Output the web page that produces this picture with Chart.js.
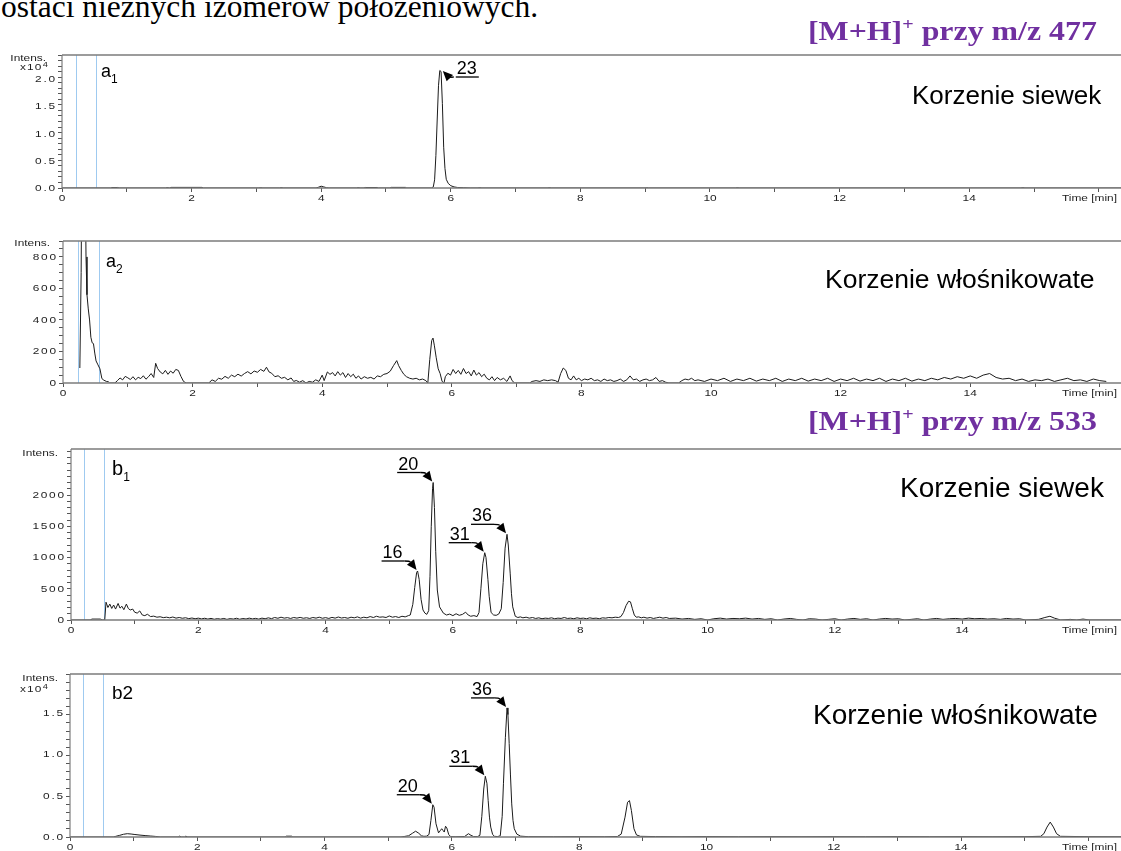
<!DOCTYPE html>
<html lang="pl">
<head>
<meta charset="utf-8">
<title>Chromatogramy EIC</title>
<script src="https://cdn.jsdelivr.net/npm/chart.js@4.4.1/dist/chart.umd.min.js"></script>
<style>
  html, body { margin: 0; padding: 0; background: #fff; width: 1121px; height: 851px; overflow: hidden; }
  canvas { position: absolute; left: 0; }
  .t { position: absolute; white-space: nowrap; line-height: 1; transform-origin: 0 0; z-index: 2; }
  .intro { font-family: "Liberation Serif", "Times New Roman", serif; font-size: 31.5px; color: #000; }
  .hdr { font-family: "Liberation Serif", "Times New Roman", serif; font-weight: bold; font-size: 27px; color: #7030a0; transform: scaleX(1.18); }
  .hdr sup { font-size: 17px; vertical-align: 10px; line-height: 0; }
  .org { font-family: "Liberation Sans", Arial, sans-serif; color: #000; }
  .pl { font-family: "Liberation Sans", Arial, sans-serif; color: #000; }
  .pl sub { font-size: 12px; vertical-align: -6px; line-height: 0; }
</style>
</head>
<body>
<div class="t intro" style="left:1px; top:-9.4px;">ostaci nieznych izomerów położeniowych.</div>

<div class="t hdr" style="left:808px; top:18.4px;">[M+H]<sup>+</sup> przy m/z 477</div>
<div class="t hdr" style="left:808px; top:408.4px;">[M+H]<sup>+</sup> przy m/z 533</div>

<div class="t org" style="left:912px; top:82px; font-size:26px;">Korzenie siewek</div>
<div class="t org" style="left:825px; top:265.6px; font-size:26.5px;">Korzenie włośnikowate</div>
<div class="t org" style="left:900px; top:474.3px; font-size:28px;">Korzenie siewek</div>
<div class="t org" style="left:813px; top:701px; font-size:28px;">Korzenie włośnikowate</div>

<div class="t pl" style="left:101px; top:61.5px; font-size:18px;">a<sub>1</sub></div>
<div class="t pl" style="left:106px; top:251.8px; font-size:18px;">a<sub>2</sub></div>
<div class="t pl" style="left:112px; top:458px; font-size:20px;">b<sub>1</sub></div>
<div class="t pl" style="left:112px; top:683px; font-size:19px;">b2</div>

<script>
// ---------------- retention time [min] / intensity pairs for each trace ----------------
// a1: m/z 477, seedling roots
const traceA1 = [
  [0,0],[0.75,0],[0.77,90],[0.86,90],[0.88,0],[1.60,0],[1.62,70],[1.66,0],[1.68,110],[2.16,110],
  [2.18,0],[3.04,0],[3.06,60],[3.10,0],[3.36,0],[3.38,60],[3.42,0],[3.92,0],[3.96,150],[4.00,330],
  [4.04,200],[4.08,60],[4.12,0],[4.55,0],[4.57,70],[4.60,0],[4.66,0],[4.68,90],[4.86,90],[4.88,0],
  [5.06,0],[5.08,110],[5.30,110],[5.32,0],[5.70,0],[5.73,200],[5.75,1500],[5.77,6000],[5.79,12500],[5.81,18800],
  [5.83,21600],[5.85,21400],[5.87,15500],[5.89,7500],[5.91,3600],[5.93,1600],[5.96,850],[6.00,420],[6.05,200],[6.10,100],
  [6.20,50],[6.30,0],[6.42,0],[6.44,60],[6.48,0],[7.50,0],[7.52,60],[7.55,0],[9.00,0],[9.02,60],
  [9.05,0],[10.40,0],[10.42,60],[10.45,0],[14.80,0],[14.82,80],[14.86,0],[16.40,0]
];

// a2: m/z 477, hairy roots
const traceA2 = [
  [0.26,95],[0.28,700],[0.30,2000],[0.32,2400],[0.34,1500],[0.355,800],[0.37,560],[0.39,470],[0.41,400],[0.43,290],
  [0.45,255],[0.47,250],[0.49,190],[0.51,140],[0.54,115],[0.57,90],[0.60,28],[0.63,18],[0.67,10],[0.70,8],
  [0.72,0],[0.80,0],[0.84,15],[0.88,32],[0.92,20],[0.96,42],[1.00,33],[1.04,22],[1.08,40],[1.12,20],
  [1.16,36],[1.20,28],[1.24,46],[1.28,24],[1.32,40],[1.36,60],[1.40,35],[1.43,125],[1.46,92],[1.50,70],
  [1.54,58],[1.58,80],[1.62,55],[1.66,76],[1.70,62],[1.74,86],[1.78,80],[1.82,42],[1.86,10],[1.90,0],
  [2.25,0],[2.30,20],[2.35,10],[2.40,30],[2.45,24],[2.50,42],[2.55,30],[2.60,50],[2.65,40],[2.70,56],
  [2.75,44],[2.80,60],[2.85,72],[2.90,58],[2.95,76],[3.00,68],[3.05,86],[3.10,74],[3.14,100],[3.18,70],
  [3.22,62],[3.27,40],[3.32,46],[3.37,30],[3.42,36],[3.47,20],[3.52,32],[3.56,10],[3.60,16],[3.65,5],
  [3.70,15],[3.75,0],[3.80,10],[3.85,5],[3.90,20],[3.95,10],[4.00,50],[4.03,15],[4.08,70],[4.12,55],
  [4.16,66],[4.20,45],[4.24,72],[4.28,50],[4.32,66],[4.36,35],[4.40,60],[4.44,40],[4.48,56],[4.52,30],
  [4.56,45],[4.60,25],[4.65,40],[4.70,30],[4.75,36],[4.80,25],[4.85,45],[4.90,40],[4.95,55],[5.00,60],
  [5.05,75],[5.10,110],[5.15,142],[5.18,110],[5.22,80],[5.26,55],[5.30,40],[5.35,30],[5.40,25],[5.45,30],
  [5.50,20],[5.55,25],[5.60,15],[5.63,0],[5.66,150],[5.69,270],[5.71,285],[5.73,240],[5.76,160],[5.79,90],
  [5.82,60],[5.85,10],[5.88,0],[5.90,40],[5.94,62],[5.98,50],[6.02,86],[6.06,60],[6.10,80],[6.14,55],
  [6.18,92],[6.22,60],[6.26,72],[6.30,45],[6.34,82],[6.38,50],[6.42,66],[6.46,40],[6.50,56],[6.54,30],
  [6.58,20],[6.62,40],[6.66,15],[6.70,35],[6.75,20],[6.80,30],[6.85,10],[6.90,45],[6.93,15],[6.97,0],
  [7.20,0],[7.24,10],[7.30,15],[7.36,10],[7.42,20],[7.48,15],[7.54,20],[7.60,15],[7.64,5],[7.68,60],
  [7.72,95],[7.76,80],[7.80,30],[7.84,20],[7.88,45],[7.92,20],[7.96,30],[8.00,15],[8.05,25],[8.10,20],
  [8.15,30],[8.20,15],[8.25,20],[8.30,10],[8.35,25],[8.40,15],[8.45,20],[8.50,10],[8.55,15],[8.60,25],
  [8.65,10],[8.70,20],[8.75,45],[8.80,20],[8.85,25],[8.90,10],[8.95,20],[9.00,25],[9.05,15],[9.10,20],
  [9.15,35],[9.20,10],[9.25,15],[9.30,5],[9.35,0],[9.50,0],[9.55,15],[9.60,25],[9.65,20],[9.70,30],
  [9.75,15],[9.80,20],[9.90,10],[10.00,25],[10.10,15],[10.20,30],[10.30,10],[10.40,25],[10.50,15],[10.60,30],
  [10.70,12],[10.80,25],[10.90,15],[11.00,30],[11.10,10],[11.20,25],[11.30,15],[11.40,30],[11.50,12],[11.60,25],
  [11.70,15],[11.80,30],[11.90,10],[12.00,25],[12.10,15],[12.20,30],[12.30,12],[12.40,25],[12.50,15],[12.60,30],
  [12.70,10],[12.80,25],[12.90,15],[13.00,30],[13.10,12],[13.20,25],[13.30,15],[13.40,30],[13.50,20],[13.60,35],
  [13.70,25],[13.80,40],[13.90,30],[14.00,45],[14.10,30],[14.20,50],[14.30,60],[14.40,35],[14.50,25],[14.60,30],
  [14.70,15],[14.80,25],[14.90,10],[15.00,20],[15.10,15],[15.20,25],[15.30,10],[15.40,20],[15.50,30],[15.60,15],
  [15.70,20],[15.80,10],[15.90,25],[16.00,15],[16.10,10]
];

// b1: m/z 533, seedling roots
const traceB1 = [
  [0,0],[0.30,0],[0.33,15],[0.46,15],[0.49,0],[0.53,0],[0.55,285],[0.58,200],[0.61,255],[0.64,185],
  [0.67,240],[0.70,175],[0.74,265],[0.77,190],[0.80,220],[0.83,165],[0.87,255],[0.90,185],[0.93,160],[0.97,175],
  [1.00,125],[1.04,110],[1.08,145],[1.12,80],[1.16,70],[1.20,92],[1.25,55],[1.30,62],[1.35,45],[1.40,52],
  [1.45,38],[1.50,45],[1.55,35],[1.60,48],[1.65,30],[1.70,40],[1.75,28],[1.80,36],[1.85,22],[1.90,32],
  [1.95,20],[2.00,30],[2.05,18],[2.10,28],[2.15,15],[2.20,26],[2.25,12],[2.30,22],[2.35,14],[2.40,25],
  [2.45,10],[2.50,22],[2.55,15],[2.60,28],[2.65,12],[2.70,24],[2.75,16],[2.80,30],[2.85,18],[2.90,26],
  [2.95,14],[3.00,30],[3.05,20],[3.10,35],[3.15,22],[3.20,40],[3.25,28],[3.30,45],[3.35,30],[3.40,38],
  [3.45,25],[3.50,40],[3.55,30],[3.60,42],[3.65,28],[3.70,36],[3.75,25],[3.80,40],[3.85,30],[3.90,45],
  [3.95,28],[4.00,38],[4.05,25],[4.10,42],[4.15,30],[4.20,48],[4.25,32],[4.30,40],[4.35,28],[4.40,45],
  [4.45,35],[4.50,50],[4.55,30],[4.60,45],[4.65,35],[4.70,55],[4.75,40],[4.80,60],[4.85,45],[4.90,50],
  [4.95,40],[5.00,65],[5.05,45],[5.10,55],[5.15,40],[5.20,60],[5.25,50],[5.30,70],[5.33,80],[5.37,250],
  [5.40,520],[5.43,760],[5.445,784],[5.47,650],[5.50,330],[5.53,160],[5.56,110],[5.59,90],[5.62,150],[5.64,700],
  [5.66,1500],[5.68,2100],[5.69,2200],[5.71,1800],[5.73,1100],[5.755,480],[5.79,210],[5.85,110],[5.90,80],[5.95,95],
  [6.00,70],[6.05,100],[6.10,75],[6.15,90],[6.20,125],[6.24,80],[6.28,60],[6.33,70],[6.38,55],[6.41,120],
  [6.44,500],[6.47,900],[6.50,1077],[6.52,1000],[6.55,650],[6.57,380],[6.60,120],[6.64,80],[6.68,75],[6.72,95],
  [6.76,180],[6.79,600],[6.82,1150],[6.85,1371],[6.87,1200],[6.90,750],[6.92,420],[6.94,210],[6.98,60],[7.02,40],
  [7.06,50],[7.10,35],[7.15,45],[7.20,30],[7.25,40],[7.30,25],[7.35,35],[7.40,20],[7.45,30],[7.50,25],
  [7.55,35],[7.60,20],[7.65,30],[7.70,25],[7.75,40],[7.80,25],[7.85,30],[7.90,20],[7.95,35],[8.00,25],
  [8.05,30],[8.10,20],[8.15,35],[8.20,25],[8.25,30],[8.30,20],[8.35,35],[8.40,30],[8.45,40],[8.50,35],
  [8.55,45],[8.60,40],[8.64,55],[8.68,120],[8.72,230],[8.76,300],[8.79,290],[8.82,180],[8.85,80],[8.88,45],
  [8.92,50],[8.96,35],[9.00,45],[9.05,30],[9.10,40],[9.15,25],[9.20,35],[9.25,45],[9.30,30],[9.35,40],
  [9.40,25],[9.50,30],[9.60,15],[9.70,25],[9.80,10],[9.90,20],[10.00,0],[10.10,20],[10.20,30],[10.30,15],
  [10.40,25],[10.50,20],[10.60,30],[10.70,15],[10.80,25],[10.90,10],[11.00,20],[11.10,0],[11.20,15],[11.30,25],
  [11.40,10],[11.50,0],[11.60,20],[11.70,15],[11.80,0],[11.90,10],[12.00,20],[12.10,0],[12.20,15],[12.30,25],
  [12.40,10],[12.50,20],[12.60,0],[12.70,15],[12.80,25],[12.90,15],[13.00,20],[13.10,0],[13.20,10],[13.30,20],
  [13.40,0],[13.50,15],[13.60,25],[13.70,10],[13.80,20],[13.90,25],[14.00,15],[14.10,30],[14.20,20],[14.30,25],
  [14.40,15],[14.50,20],[14.60,10],[14.70,25],[14.80,15],[14.90,20],[15.00,0],[15.20,10],[15.30,40],[15.38,60],
  [15.45,30],[15.55,0],[15.70,10],[15.80,0],[15.90,15],[16.00,0],[16.60,0]
];

// b2: m/z 533, hairy roots
const traceB2 = [
  [0,0],[0.68,0],[0.72,80],[0.78,200],[0.84,330],[0.90,400],[0.96,360],[1.02,300],[1.10,230],[1.18,170],
  [1.26,120],[1.34,70],[1.42,0],[1.70,0],[1.72,100],[1.75,0],[1.80,0],[1.82,100],[1.85,0],[3.38,0],
  [3.40,100],[3.48,100],[3.50,0],[5.20,0],[5.25,60],[5.32,150],[5.38,450],[5.43,700],[5.48,450],[5.52,150],
  [5.56,80],[5.60,100],[5.64,300],[5.67,2000],[5.70,3900],[5.72,3600],[5.75,1600],[5.79,500],[5.82,800],[5.84,1000],
  [5.86,800],[5.88,600],[5.90,1300],[5.92,1100],[5.95,300],[5.98,50],[6.05,30],[6.20,60],[6.26,400],[6.30,200],
  [6.34,60],[6.40,40],[6.44,200],[6.47,2500],[6.50,5800],[6.525,7340],[6.55,6500],[6.57,4400],[6.59,2400],[6.61,1200],
  [6.64,300],[6.67,80],[6.72,50],[6.76,150],[6.79,2500],[6.81,6500],[6.84,12000],[6.866,15600],[6.88,14800],[6.90,11300],
  [6.92,7500],[6.94,4000],[6.96,2000],[6.98,1000],[7.02,350],[7.08,100],[7.20,40],[7.60,30],[8.00,40],[8.40,30],
  [8.60,60],[8.66,350],[8.72,2400],[8.76,4200],[8.79,4400],[8.82,3200],[8.86,1000],[8.90,250],[8.96,80],[9.20,50],
  [9.60,30],[10.00,50],[10.50,30],[11.00,40],[11.50,30],[12.00,40],[12.50,30],[13.00,40],[13.50,30],[14.00,40],
  [14.50,30],[15.00,40],[15.25,80],[15.30,400],[15.35,1200],[15.40,1800],[15.45,1200],[15.50,400],[15.56,80],[16.00,40],
  [16.60,30]
];

// axis tick labels
const xTickLabels = ['0', '2', '4', '6', '8', '10', '12', '14'];
const yLabelsA1 = ['0.0', '0.5', '1.0', '1.5', '2.0'];          // x10^4
const yLabelsA2 = ['0', '200', '400', '600', '800'];
const yLabelsB1 = ['0', '500', '1000', '1500', '2000'];
const yLabelsB2 = ['0.0', '0.5', '1.0', '1.5'];                 // x10^4

// numbered compounds marked at their peaks (retention time in min)
const peaksA1 = [['23', 5.84]];
const peaksB1 = [['16', 5.445], ['20', 5.69], ['31', 6.50], ['36', 6.85]];
const peaksB2 = [['20', 5.70], ['31', 6.525], ['36', 6.866]];

// ---------------- drawing ----------------
const AXIS_FONT = '9px "Liberation Sans", Arial, sans-serif';
const STRETCH = 1.32;
const CANVAS_W = 1160;
const PLOT_RIGHT = 1125;

function wideText(ctx, text, x, y, align, spacing) {
  ctx.save();
  ctx.letterSpacing = (spacing || 0) + 'px';
  const w = ctx.measureText(text).width * STRETCH - (spacing || 0) * STRETCH;
  const x0 = align === 'right' ? x - w : align === 'center' ? x - w / 2 : x;
  ctx.translate(x0, y);
  ctx.scale(STRETCH, 1);
  ctx.textAlign = 'left';
  ctx.fillText(text, 0, 0);
  ctx.restore();
  return w;
}

function findPeak(points, t) {
  let best = null;
  points.forEach(p => {
    if (Math.abs(p.x - t) <= 0.06 && (!best || p.y > best.y)) best = p;
  });
  return best;
}

const decoPlugin = {
  id: 'deco',
  beforeDatasetsDraw(chart, args, o) {
    const { ctx, chartArea: a, scales: { x } } = chart;
    ctx.save();
    ctx.strokeStyle = '#9fcaf0';
    ctx.lineWidth = 1;
    o.markers.forEach(t => {
      const px = Math.round(x.getPixelForValue(t)) + 0.5;
      ctx.beginPath(); ctx.moveTo(px, a.top); ctx.lineTo(px, a.bottom); ctx.stroke();
    });
    ctx.restore();
  },
  afterDatasetsDraw(chart, args, o) {
    const { ctx, chartArea: a, scales: { x, y } } = chart;
    ctx.save();
    // frame and axes
    ctx.strokeStyle = '#7c7c7c';
    ctx.lineWidth = 1.5;
    ctx.beginPath();
    ctx.moveTo(a.left, a.top); ctx.lineTo(chart.width, a.top);
    ctx.moveTo(a.left, a.bottom); ctx.lineTo(chart.width, a.bottom);
    ctx.stroke();
    ctx.lineWidth = 1.2;
    ctx.beginPath();
    ctx.moveTo(a.left, a.top); ctx.lineTo(a.left, a.bottom + 0.5);
    ctx.stroke();

    // tick labels
    ctx.fillStyle = '#1e1e1e';
    ctx.font = AXIS_FONT;
    ctx.textBaseline = 'middle';
    o.yLabels.forEach((lab, i) => {
      wideText(ctx, lab, a.left - 7, y.getPixelForValue(i * o.yLabelStep) + 0.5, 'right', 1.3);
    });
    ctx.textBaseline = 'alphabetic';
    xTickLabels.forEach((lab, i) => {
      wideText(ctx, lab, x.getPixelForValue(i * 2), a.bottom + 12.5, 'center', 0);
    });
    wideText(ctx, 'Time [min]', 1062, a.bottom + 12.5, 'left', 0);

    // intensity caption
    wideText(ctx, 'Intens.', a.left - o.intens[0], a.top + o.intens[1], 'right', 0);
    if (o.exp) {
      const w = wideText(ctx, 'x10', a.left - o.exp[0], a.top + o.exp[1], 'left', 0.8);
      ctx.font = '7px "Liberation Sans", Arial, sans-serif';
      wideText(ctx, '4', a.left - o.exp[0] + w + 1.5, a.top + o.exp[1] - 3, 'left', 0);
    }

    // compound numbers with arrows
    const pts = chart.data.datasets[0].data;
    ctx.font = '18px "Liberation Sans", Arial, sans-serif';
    ctx.fillStyle = '#000';
    ctx.strokeStyle = '#000';
    ctx.lineWidth = 1.3;
    o.peaks.forEach(([num, t]) => {
      const pk = findPeak(pts, t);
      if (!pk) return;
      const px = x.getPixelForValue(pk.x), py = y.getPixelForValue(pk.y);
      const tw = ctx.measureText(num).width;
      let tx, ty, sx, tip, cx;
      if (o.labelSide === 'right') {
        tx = px + 17; ty = py + 3.5;
        sx = tx - 3;               // arrow leaves from the left end of the underline
        tip = [px + 3, py + 0.5];
        cx = sx - 5;
      } else {
        tx = px - 35; ty = py - 13;
        sx = tx + tw + 2;          // arrow leaves from the right end of the underline
        tip = [px - 1, py - 1];
        cx = sx + 5;
      }
      const uy = ty + 3;
      ctx.fillText(num, tx, ty);
      ctx.beginPath();
      ctx.moveTo(tx - 1, uy); ctx.lineTo(tx + tw + 2, uy);
      ctx.stroke();
      // curved shaft
      const ang = Math.atan2(tip[1] - uy, tip[0] - cx);
      const hl = 10, hw = 4.5;
      const bx = tip[0] - hl * Math.cos(ang), by = tip[1] - hl * Math.sin(ang);
      ctx.beginPath();
      ctx.moveTo(sx, uy);
      ctx.quadraticCurveTo(cx, uy, bx, by);
      ctx.stroke();
      // head
      ctx.beginPath();
      ctx.moveTo(tip[0], tip[1]);
      ctx.lineTo(bx + hw * Math.sin(ang), by - hw * Math.cos(ang));
      ctx.lineTo(bx - hw * Math.sin(ang), by + hw * Math.cos(ang));
      ctx.closePath();
      ctx.fill();
    });
    ctx.restore();
  }
};

function panel(p) {
  const padTop = 12, axisH = 24;
  const canvas = document.createElement('canvas');
  canvas.width = CANVAS_W;
  canvas.height = padTop + (p.bottom - p.top) + axisH;
  canvas.style.top = (p.top - padTop) + 'px';
  document.body.appendChild(canvas);
  const xMax = (PLOT_RIGHT - p.left) / p.pxPerMin;
  return new Chart(canvas, {
    type: 'scatter',
    data: {
      datasets: [{
        data: p.trace.map(([t, v]) => ({ x: t, y: v })),
        showLine: true,
        borderColor: '#1b1b1b',
        borderWidth: 1,
        pointRadius: 0,
        tension: 0,
        fill: false
      }]
    },
    options: {
      responsive: false,
      animation: false,
      devicePixelRatio: 1,
      layout: { padding: { left: 0, top: padTop, right: CANVAS_W - PLOT_RIGHT, bottom: 0 } },
      plugins: {
        legend: { display: false },
        tooltip: { enabled: false },
        deco: {
          markers: p.markers,
          yLabels: p.yLabels,
          yLabelStep: p.yLabelStep,
          intens: p.intens,
          exp: p.exp,
          peaks: p.peaks,
          labelSide: p.labelSide
        }
      },
      scales: {
        x: {
          type: 'linear', min: 0, max: xMax,
          border: { display: false },
          grid: { drawOnChartArea: false, drawTicks: true, tickLength: 4, color: '#555', lineWidth: 1 },
          ticks: { display: false, stepSize: 1, includeBounds: false },
          afterFit(s) { s.height = axisH; }
        },
        y: {
          type: 'linear', min: 0, max: p.yMax,
          border: { display: false },
          grid: { drawOnChartArea: false, drawTicks: true, tickLength: 4, color: '#555', lineWidth: 1 },
          ticks: { display: false, stepSize: p.yMinor, includeBounds: false },
          afterFit(s) { s.width = p.left; }
        }
      }
    },
    plugins: [decoPlugin]
  });
}

panel({ trace: traceA1, left: 62, top: 55, bottom: 188, pxPerMin: 64.8, yMax: 24450, yMinor: 1000,
        yLabels: yLabelsA1, yLabelStep: 5000, markers: [0.215, 0.525], intens: [16, 6], exp: [42, 15],
        peaks: peaksA1, labelSide: 'right' });
panel({ trace: traceA2, left: 63, top: 241, bottom: 383, pxPerMin: 64.8, yMax: 901, yMinor: 50,
        yLabels: yLabelsA2, yLabelStep: 200, markers: [0.235, 0.56], intens: [13, 5], exp: null,
        peaks: [], labelSide: 'left' });
panel({ trace: traceB1, left: 71, top: 449, bottom: 620, pxPerMin: 63.65, yMax: 2736, yMinor: 100,
        yLabels: yLabelsB1, yLabelStep: 500, markers: [0.21, 0.52], intens: [13, 7], exp: null,
        peaks: peaksB1, labelSide: 'left' });
panel({ trace: traceB2, left: 70, top: 674, bottom: 837, pxPerMin: 63.65, yMax: 19700, yMinor: 1000,
        yLabels: yLabelsB2, yLabelStep: 5000, markers: [0.21, 0.525], intens: [12, 7], exp: [50, 18],
        peaks: peaksB2, labelSide: 'left' });
</script>
</body>
</html>
